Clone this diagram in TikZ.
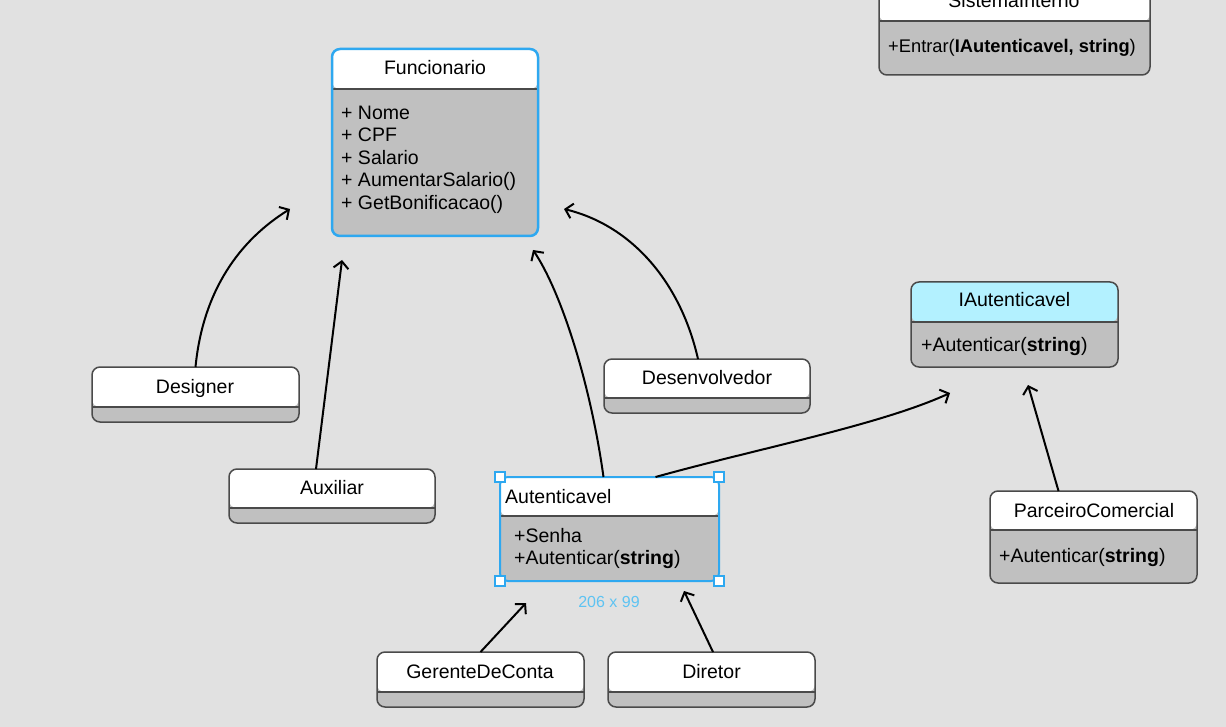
\documentclass[tikz,border=0pt]{standalone}
\usepackage{fontspec}
\setmainfont{Liberation Sans}
\usetikzlibrary{arrows.meta}
\definecolor{canvasbg}{HTML}{E1E1E1}
\definecolor{bodygray}{HTML}{C0C0C0}
\definecolor{boxline}{HTML}{4A4A4A}
\definecolor{ifacecyan}{HTML}{B3F1FF}
\definecolor{selblue}{HTML}{2EA8F0}
\definecolor{sizeblue}{HTML}{5EC3F2}
\tikzset{
  cls/.style={draw=boxline, line width=1.5pt, rounded corners=8pt, fill=bodygray,
    anchor=north west, inner sep=0pt, outer sep=0pt},
  hdr/.style 2 args={path picture={
    \fill[#2] (path picture bounding box.north west) rectangle ([yshift=-#1pt]path picture bounding box.north east);
    \draw[boxline, line width=2pt] ([yshift=-#1pt]path picture bounding box.north west) -- ([yshift=-#1pt]path picture bounding box.north east);}},
  ttl/.style={anchor=base, inner sep=0pt, font=\fontsize{19.5}{23}\selectfont},
  mem/.style={anchor=base west, inner sep=0pt, font=\fontsize{19.5}{23}\selectfont},
  handle/.style={draw=selblue, fill=white, line width=1.5pt, minimum size=10pt, inner sep=0pt},
  arr/.style={line width=2pt, -{Straight Barb[length=7pt,width=15pt]}},
}
\begin{document}
\begin{tikzpicture}[x=1pt, y=-1pt]
\useasboundingbox (0,0) rectangle (1226,727);
\fill[canvasbg] (0,0) rectangle (1226,727);
\clip (0,0) rectangle (1226,727);

% class boxes
\node[cls, draw=selblue, line width=2.5pt, hdr={40}{white}, minimum width=206pt, minimum height=187pt] (fun) at (332,49) {};
\node[cls, hdr={41.5}{white}, minimum width=271pt, minimum height=95pt] (sis) at (879,-20) {};
\node[cls, hdr={40}{ifacecyan}, minimum width=207pt, minimum height=85pt] (iau) at (911,282) {};
\node[cls, hdr={40}{white}, minimum width=207pt, minimum height=55pt] (des) at (92,367) {};
\node[cls, hdr={39}{white}, minimum width=206pt, minimum height=54pt] (dev) at (604,359) {};
\node[cls, hdr={39}{white}, minimum width=206pt, minimum height=54pt] (aux) at (229,469) {};
\node[cls, draw=selblue, line width=2pt, hdr={39}{white}, minimum width=219pt, minimum height=104pt] (aut) at (500,477) {};
\node[cls, hdr={39}{white}, minimum width=207pt, minimum height=92pt] (par) at (990,491) {};
\node[cls, hdr={40}{white}, minimum width=207pt, minimum height=55pt] (ger) at (377,652) {};
\node[cls, hdr={40}{white}, minimum width=207pt, minimum height=55pt] (dir) at (608,652) {};

% titles
\node[ttl] (fun-t) at (435,75) {Funcionario};
\node[ttl] (sis-t) at (1014,8) {SistemaInterno};
\node[ttl] (iau-t) at (1014.5,307) {IAutenticavel};
\node[ttl] (des-t) at (195,393) {Designer};
\node[ttl] (dev-t) at (707,384) {Desenvolvedor};
\node[ttl] (aux-t) at (332,494) {Auxiliar};
\node[mem] (aut-t) at (505,503) {Autenticavel};
\node[ttl] (par-t) at (1094,517) {ParceiroComercial};
\node[ttl] (ger-t) at (480,678) {GerenteDeConta};
\node[ttl] (dir-t) at (711.5,678) {Diretor};

% members
\node[mem] (fun-m1) at (341,120) {+ Nome};
\node[mem] (fun-m2) at (341,142) {+ CPF};
\node[mem] (fun-m3) at (341,164.5) {+ Salario};
\node[mem] (fun-m4) at (341,187) {+ AumentarSalario()};
\node[mem] (fun-m5) at (341,210) {+ GetBonificacao()};
\node[mem, font=\fontsize{18.3}{22}\selectfont] (sis-m1) at (888,53) {+Entrar(\textbf{IAutenticavel, string})};
\node[mem] (iau-m1) at (921,352) {+Autenticar(\textbf{string})};
\node[mem] (aut-m1) at (514,542) {+Senha};
\node[mem] (aut-m2) at (514,564) {+Autenticar(\textbf{string})};
\node[mem] (par-m1) at (999,562) {+Autenticar(\textbf{string})};

% selection handles and size readout
\node[handle] (hnw) at (aut.north west) {};
\node[handle] (hne) at (aut.north east) {};
\node[handle] (hsw) at (aut.south west) {};
\node[handle] (hse) at (aut.south east) {};
\node[inner sep=0pt, text=sizeblue, font=\fontsize{16}{18}\selectfont] (aut-size) at (609,602) {206 x 99};

% free arrow ends
\coordinate (fun-a1) at (290,209);
\coordinate (fun-a2) at (342,260);
\coordinate (fun-a3) at (533,250);
\coordinate (fun-a4) at (564,209);
\coordinate (iau-a1) at (950,393);
\coordinate (iau-a2) at (1028,385);
\coordinate (aut-a1) at (526,603);
\coordinate (aut-a2) at (684,591);

% inheritance / realization arrows
\draw[arr] (des.north) .. controls (203,290) and (240,240) .. (fun-a1);
\draw[arr] ([xshift=-16pt]aux.north) -- (fun-a2);
\draw[arr] ([xshift=-6pt]aut.north) .. controls (590,380) and (560,290) .. (fun-a3);
\draw[arr] ([xshift=-9pt]dev.north) .. controls (680,280) and (630,225) .. (fun-a4);
\draw[arr] ([xshift=46pt]aut.north) .. controls (760,448) and (880,425) .. (iau-a1);
\draw[arr] ([xshift=-35pt]par.north) -- (iau-a2);
\draw[arr] (ger.north) -- (aut-a1);
\draw[arr] ([xshift=1.5pt]dir.north) -- (aut-a2);
\end{tikzpicture}
\end{document}
